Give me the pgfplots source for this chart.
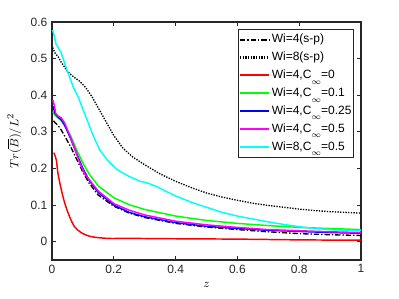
\documentclass[border=0pt]{standalone}
\usepackage{pgfplots}
\pgfplotsset{compat=1.18}
\usepackage{fontspec}
\setmainfont{Liberation Sans}
\definecolor{axc}{gray}{0.15}
\definecolor{mred}{rgb}{1,0,0}
\definecolor{mgreen}{rgb}{0,1,0}
\definecolor{mblue}{rgb}{0,0,1}
\definecolor{mmag}{rgb}{1,0,1}
\definecolor{mcyan}{rgb}{0,1,1}
\newcommand{\Ci}{C\raisebox{-0.45em}{$\scriptstyle\infty$}}
\begin{document}
\begin{tikzpicture}
\begin{axis}[
  scale only axis,
  width=231.75pt, height=178.5pt,
  at={(0,0)}, anchor=south west,
  xmin=0, xmax=1, ymin=-0.05, ymax=0.6,
  xtick={0,0.2,0.4,0.6,0.8,1},
  ytick={0,0.1,0.2,0.3,0.4,0.5,0.6},
  xticklabels={0,0.2,0.4,0.6,0.8,1},
  yticklabels={0,0.1,0.2,0.3,0.4,0.5,0.6},
  tick pos=both, tick align=inside,
  major tick length=3pt,
  axis line style={axc, line width=0.8pt},
  every tick/.style={axc, line width=0.6pt},
  tick label style={font=\fontsize{9}{11}\selectfont, text=axc},
  /pgf/number format/assume math mode=true,
  xlabel={$z$}, ylabel={$Tr(\overline{B})/L^2$},
  label style={font=\fontsize{9.5}{11}\selectfont},
  legend style={at={(0.9775,0.97)}, anchor=north east, draw=axc, line width=0.7pt,
    font=\fontsize{9}{10}\selectfont, inner xsep=0.5pt, inner ysep=1.5pt, row sep=1.4pt,
    nodes={inner xsep=1pt}, cells={anchor=west}},
  legend cell align=left,
  legend image code/.code={\draw[#1, line width=1.6pt] (0pt,0pt) -- (22pt,0pt);},
  clip=true,
]
\addplot[black, line width=1pt, dash pattern=on 4pt off 1.5pt on 1pt off 1.5pt] coordinates {
(0.005,0.33)(0.01,0.325)(0.02,0.317)(0.03,0.305)(0.04,0.29)(0.06,0.26)(0.08,0.225)(0.1,0.19)(0.12,0.16)(0.15,0.127)(0.2,0.097)(0.25,0.078)(0.3,0.066)(0.4,0.05)(0.5,0.04)(0.6,0.033)(0.7,0.027)(0.8,0.022)(0.9,0.019)(1,0.017)};
\addlegendentry{Wi=4(s-p)}
\addplot[black, line width=1pt, dash pattern=on 1pt off 1pt] coordinates {
(0.002,0.53)(0.01,0.515)(0.02,0.505)(0.03,0.49)(0.05,0.465)(0.07,0.45)(0.09,0.438)(0.11,0.42)(0.13,0.395)(0.15,0.365)(0.17,0.335)(0.2,0.29)(0.23,0.255)(0.26,0.232)(0.3,0.21)(0.35,0.185)(0.4,0.165)(0.45,0.148)(0.5,0.133)(0.55,0.122)(0.6,0.113)(0.65,0.105)(0.7,0.099)(0.75,0.094)(0.8,0.089)(0.85,0.085)(0.9,0.082)(0.95,0.08)(1,0.078)};
\addlegendentry{Wi=8(s-p)}
\addplot[mred, line width=1.1pt, smooth] coordinates {
(0.006,0.243)(0.014,0.223)(0.019,0.188)(0.028,0.15)(0.041,0.106)(0.057,0.068)(0.073,0.041)(0.094,0.025)(0.126,0.014)(0.18,0.009)(0.25,0.009)(0.4,0.008)(0.6,0.007)(0.8,0.005)(1,0.004)};
\addlegendentry{Wi=4,\Ci=0}
\addplot[mgreen, line width=1.1pt] coordinates {
(0.003,0.355)(0.01,0.345)(0.02,0.338)(0.03,0.33)(0.04,0.318)(0.06,0.29)(0.08,0.25)(0.1,0.215)(0.12,0.185)(0.15,0.152)(0.2,0.12)(0.25,0.101)(0.3,0.088)(0.4,0.07)(0.5,0.058)(0.6,0.05)(0.7,0.044)(0.8,0.039)(0.9,0.036)(1,0.033)};
\addlegendentry{Wi=4,\Ci=0.1}
\addplot[mblue, line width=1.1pt] coordinates {
(0.003,0.37)(0.01,0.35)(0.02,0.34)(0.03,0.333)(0.04,0.32)(0.06,0.282)(0.08,0.24)(0.1,0.2)(0.12,0.168)(0.15,0.134)(0.2,0.1)(0.25,0.08)(0.3,0.068)(0.4,0.052)(0.5,0.042)(0.6,0.036)(0.7,0.031)(0.8,0.028)(0.9,0.025)(1,0.023)};
\addlegendentry{Wi=4,\Ci=0.25}
\addplot[mmag, line width=1.1pt] coordinates {
(0.003,0.387)(0.008,0.37)(0.012,0.35)(0.02,0.343)(0.03,0.338)(0.041,0.324)(0.06,0.285)(0.073,0.256)(0.09,0.215)(0.106,0.185)(0.12,0.17)(0.15,0.138)(0.2,0.104)(0.25,0.086)(0.3,0.073)(0.4,0.056)(0.5,0.046)(0.6,0.039)(0.7,0.033)(0.8,0.03)(0.9,0.027)(1,0.025)};
\addlegendentry{Wi=4,\Ci=0.5}
\addplot[mcyan, line width=1.1pt] coordinates {
(0.002,0.578)(0.008,0.56)(0.013,0.54)(0.02,0.53)(0.03,0.515)(0.05,0.465)(0.07,0.42)(0.085,0.395)(0.11,0.34)(0.133,0.29)(0.155,0.25)(0.18,0.222)(0.21,0.197)(0.25,0.178)(0.285,0.165)(0.31,0.16)(0.34,0.15)(0.37,0.137)(0.4,0.125)(0.45,0.108)(0.5,0.094)(0.55,0.08)(0.6,0.07)(0.65,0.062)(0.7,0.054)(0.75,0.047)(0.8,0.041)(0.85,0.036)(0.9,0.033)(0.95,0.031)(1,0.03)};
\addlegendentry{Wi=8,\Ci=0.5}
\end{axis}
\path[use as bounding box] (-39pt,-29.25pt) rectangle (260.25pt,195pt);
\end{tikzpicture}
\end{document}
